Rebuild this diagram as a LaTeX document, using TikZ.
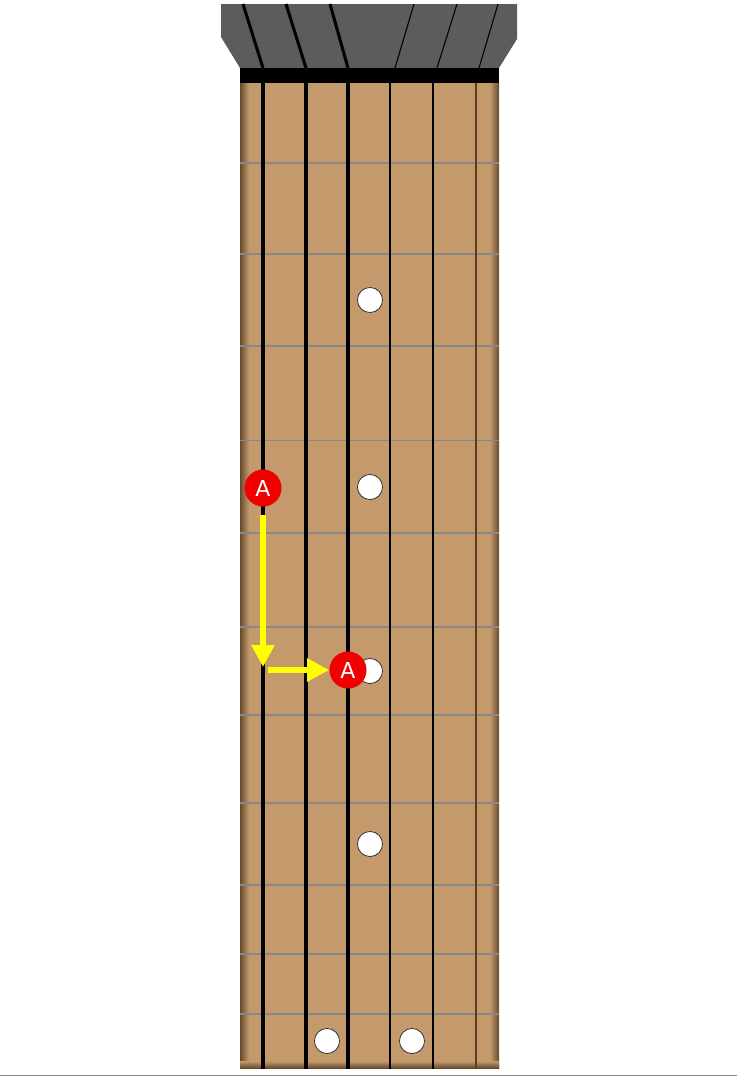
\documentclass[tikz,border=0pt]{standalone}
\usepackage{fontspec}
\newfontfamily\markfont{DejaVu Sans}
\usetikzlibrary{arrows.meta}
\definecolor{wood}{RGB}{196,153,108}
\definecolor{woodedge}{RGB}{100,76,48}
\definecolor{headgray}{RGB}{92,92,92}
\definecolor{fretgray}{RGB}{136,136,136}
\definecolor{laststring}{RGB}{90,62,34}
\definecolor{markred}{RGB}{240,0,0}
\definecolor{moveyellow}{RGB}{255,255,0}
\begin{document}
\begin{tikzpicture}[x=0.75pt,y=-0.75pt,
  fret/.style={draw=fretgray,line width=1pt},
  thickstring/.style={draw=black,line width=2.3pt},
  thinstring/.style={draw=black,line width=0.8pt},
  inlay/.style={circle,draw=black!80,fill=white,line width=0.6pt,minimum size=18.8pt,inner sep=0pt},
  note/.style={circle,fill=markred,text=white,minimum size=27.8pt,inner sep=0pt,font=\markfont\fontsize{16.5}{16.5}\selectfont},
  move/.style={draw=moveyellow,line width=5.2pt,-{Triangle[width=16.5pt,length=16.5pt]}}
]
\useasboundingbox (0,0) rectangle (737,1076);
% headstock
\fill[headgray] (221,4) -- (517,4) -- (517,39) -- (499,68) -- (240,68) -- (221,37) -- cycle;
\draw[thickstring] (243,4) -- (263,68);
\draw[thickstring] (286,4) -- (306,68);
\draw[thickstring] (330,4) -- (348,68);
\draw[thinstring] (414,4) -- (395,68);
\draw[thinstring] (457,4) -- (437,68);
\draw[thinstring] (498,4) -- (479,68);
% fretboard
\fill[wood] (240,83) rectangle (499,1068);
\shade[left color=woodedge,right color=wood] (240,83) rectangle (249,1068);
\shade[left color=wood,right color=woodedge] (490,83) rectangle (499,1068);
\shade[top color=wood,bottom color=woodedge] (240,1061) rectangle (499,1068);
% frets
\foreach \fy in {163,254,346,440.5,533,627,715,803,885,954,1014}
  \draw[fret] (240,\fy) -- (499,\fy);
% inlays
\node[inlay] (d3) at (370,300) {};
\node[inlay] (d5) at (370,487) {};
\node[inlay] (d7) at (370,671) {};
\node[inlay] (d9) at (370,844) {};
\node[inlay] (d12a) at (327,1041) {};
\node[inlay] (d12b) at (412,1041) {};
% strings
\foreach \sx in {263,306,348}
  \draw[thickstring] (\sx,83) -- (\sx,1069);
\foreach \sx in {390,433}
  \draw[thinstring] (\sx,83) -- (\sx,1069);
\draw[thinstring,draw=laststring] (476,83) -- (476,1069);
% nut
\fill[black] (240,68) rectangle (499,83);
% baseline
\draw[draw=fretgray,line width=1.1pt] (0,1075.5) -- (737,1075.5);
% notes and moves
\node[note] (A1) at (263,488) {A};
\node[note] (A2) at (348,670) {A};
\coordinate (bend) at (263,667);
\coordinate (hstart) at (268,670);
\draw[move,shorten <=6pt] (A1) -- (bend);
\draw[move] (hstart) -- (A2);
\end{tikzpicture}
\end{document}
